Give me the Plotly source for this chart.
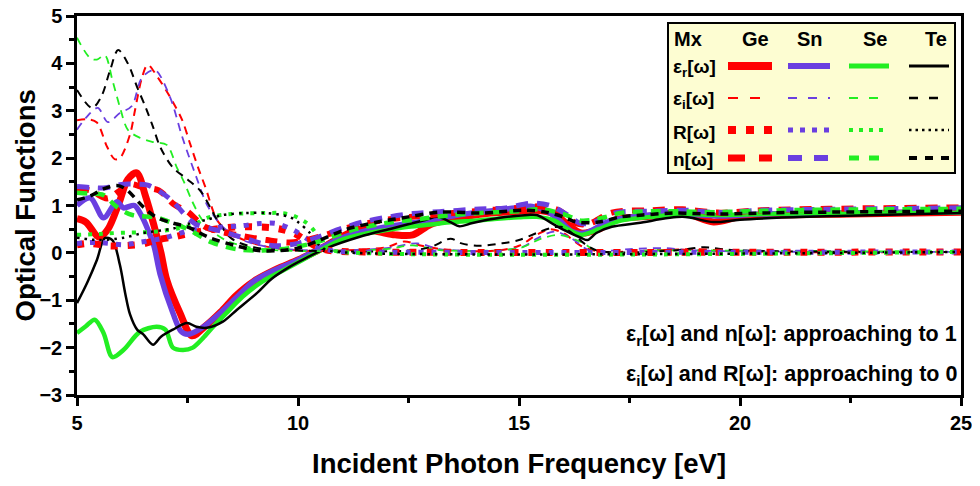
import plotly.graph_objects as go

# ---------------- data ----------------
materials = ["Ge", "Sn", "Se", "Te"]
functions = ["er", "ei", "R", "n"]
x_ticks = [5, 10, 15, 20, 25]
y_ticks = [-3, -2, -1, 0, 1, 2, 3, 4, 5]

# real part of dielectric function
er_ge_x = [5.0, 5.2, 5.5, 5.7, 5.95, 6.15, 6.35, 6.55, 6.75, 6.9, 7.03, 7.33, 7.6, 7.9, 8.25, 8.6, 9.0, 9.5, 10.0, 10.5,
           11.0, 11.4, 11.8, 12.2, 12.6, 13.0, 13.5, 14.0, 14.5, 15.0, 15.4, 15.8, 16.1, 16.4, 16.8, 17.2, 18.0, 18.7,
           19.4, 20.0, 21.0, 22.5, 25.0]
er_ge_y = [0.72, 0.65, 0.33, 0.5, 1.05, 1.55, 1.69, 1.2, 0.55, 0.0, -0.57, -1.27, -1.75, -1.55, -1.25, -0.9, -0.6, -0.35,
           -0.15, 0.08, 0.35, 0.5, 0.45, 0.38, 0.38, 0.6, 0.72, 0.8, 0.85, 0.88, 0.9, 0.82, 0.6, 0.42, 0.5, 0.7, 0.78,
           0.85, 0.65, 0.76, 0.8, 0.82, 0.86]
er_sn_x = [5.0, 5.3, 5.6, 5.9, 6.05, 6.3, 6.45, 6.6, 6.74, 6.88, 7.17, 7.35, 7.5, 7.8, 8.2, 8.6, 9.0, 9.5, 10.0, 10.5,
           11.0, 11.5, 12.0, 12.5, 13.0, 13.5, 14.0, 14.5, 15.0, 15.3, 15.6, 15.9, 16.2, 16.5, 17.0, 17.5, 18.5, 19.5,
           20.5, 22.0, 25.0]
er_sn_y = [1.0, 1.16, 0.74, 1.08, 0.95, 1.0, 0.8, 0.5, 0.15, -0.45, -1.27, -1.65, -1.72, -1.6, -1.3, -0.95, -0.6, -0.35,
           -0.15, 0.1, 0.32, 0.46, 0.55, 0.62, 0.7, 0.78, 0.85, 0.9, 0.96, 0.98, 0.9, 0.7, 0.45, 0.42, 0.65, 0.75, 0.83,
           0.78, 0.82, 0.84, 0.87]
er_se_x = [5.0, 5.2, 5.4, 5.6, 5.8, 6.05, 6.42, 6.8, 7.0, 7.17, 7.4, 7.62, 7.85, 8.08, 8.4, 8.75, 9.2, 9.7, 10.1, 10.5,
           11.0, 11.5, 12.0, 12.5, 13.0, 13.5, 14.0, 14.5, 15.0, 15.4, 15.8, 16.1, 16.4, 16.8, 17.3, 18.0, 18.7, 19.5,
           20.5, 22.0, 25.0]
er_se_y = [-1.69, -1.55, -1.41, -1.69, -2.2, -2.05, -1.67, -1.56, -1.62, -2.0, -2.05, -2.0, -1.8, -1.56, -1.25, -0.92,
           -0.6, -0.35, -0.15, 0.05, 0.28, 0.4, 0.48, 0.55, 0.6, 0.65, 0.68, 0.72, 0.75, 0.76, 0.68, 0.5, 0.38, 0.5, 0.68,
           0.76, 0.82, 0.8, 0.82, 0.84, 0.86]
er_te_x = [5.0, 5.23, 5.45, 5.63, 5.8, 5.97, 6.09, 6.2, 6.36, 6.5, 6.72, 6.9, 7.17, 7.49, 7.7, 7.94, 8.3, 8.62, 9.07, 9.4,
           9.8, 10.2, 10.65, 11.4, 12.15, 12.9, 13.15, 13.45, 13.65, 13.95, 14.57, 15.2, 15.4, 15.7, 16.0, 16.4, 16.55,
           16.75, 17.1, 17.7, 18.7, 19.4, 20.0, 21.5, 25.0]
er_te_y = [-1.06, -0.63, -0.15, 0.31, 0.27, -0.25, -0.85, -1.3, -1.62, -1.72, -1.94, -1.77, -1.62, -1.48, -1.56, -1.58,
           -1.45, -1.2, -0.85, -0.55, -0.3, -0.1, 0.1, 0.34, 0.52, 0.7, 0.76, 0.65, 0.56, 0.63, 0.74, 0.8, 0.8, 0.65,
           0.49, 0.32, 0.27, 0.42, 0.55, 0.63, 0.76, 0.65, 0.7, 0.76, 0.84]

# imaginary part of dielectric function
ei_ge_x = [5.0, 5.25, 5.45, 5.68, 5.85, 5.97, 6.2, 6.31, 6.47, 6.6, 6.83, 7.1, 7.38, 7.56, 7.74, 7.9, 8.2, 8.6, 9.2, 10.0,
           11.0, 12.0, 12.4, 12.8, 13.5, 14.5, 15.0, 15.4, 15.7, 16.0, 16.4, 16.8, 18.0, 19.0, 20.0, 25.0]
ei_ge_y = [2.8, 2.82, 2.75, 2.24, 1.98, 2.0, 2.5, 3.0, 3.7, 3.97, 3.7, 3.3, 2.8, 2.3, 1.8, 1.4, 0.65, 0.35, 0.15, 0.05,
           0.05, 0.12, 0.24, 0.15, 0.05, 0.05, 0.15, 0.38, 0.5, 0.42, 0.15, 0.03, 0.05, 0.08, 0.03, 0.02]
ei_sn_x = [5.0, 5.2, 5.47, 5.7, 5.97, 6.24, 6.47, 6.76, 7.1, 7.38, 7.7, 7.95, 8.3, 8.8, 9.5, 10.5, 12.0, 12.7, 13.2, 14.5,
           15.1, 15.4, 15.8, 16.2, 16.6, 17.5, 18.3, 19.0, 25.0]
ei_sn_y = [2.6, 2.85, 3.06, 2.76, 2.95, 3.1, 3.7, 3.86, 3.3, 2.45, 1.6, 1.0, 0.55, 0.25, 0.1, 0.05, 0.1, 0.2, 0.08, 0.05,
           0.13, 0.3, 0.45, 0.3, 0.05, 0.08, 0.1, 0.05, 0.02]
ei_se_x = [5.0, 5.3, 5.45, 5.63, 5.8, 5.97, 6.15, 6.42, 6.72, 7.03, 7.26, 7.42, 7.6, 7.8, 8.0, 8.4, 9.0, 10.0, 12.0, 12.6,
           13.2, 15.0, 15.5, 15.9, 16.4, 16.8, 18.0, 25.0]
ei_se_y = [4.54, 4.11, 4.08, 4.17, 3.65, 3.08, 2.6, 2.43, 2.34, 2.28, 1.8, 1.5, 1.1, 0.74, 0.5, 0.25, 0.1, 0.04, 0.08,
           0.16, 0.06, 0.1, 0.3, 0.38, 0.23, 0.03, 0.05, 0.02]
ei_te_x = [5.0, 5.34, 5.55, 5.75, 5.93, 6.15, 6.36, 6.55, 6.72, 6.88, 7.17, 7.5, 7.8, 8.17, 8.5, 9.0, 10.0, 12.5, 13.0,
           13.45, 13.7, 14.1, 14.6, 15.0, 15.4, 15.7, 15.95, 16.2, 16.5, 16.8, 18.5, 19.2, 19.8, 25.0]
ei_te_y = [3.44, 3.06, 3.3, 3.86, 4.28, 4.0, 3.5, 3.08, 2.66, 2.24, 1.8, 1.55, 1.3, 0.7, 0.3, 0.12, 0.05, 0.05, 0.12, 0.3,
           0.2, 0.15, 0.2, 0.27, 0.42, 0.52, 0.55, 0.42, 0.18, 0.04, 0.05, 0.12, 0.06, 0.02]

# reflectivity
r_ge_x = [5.0, 5.3, 5.7, 6.0, 6.45, 6.8, 7.2, 7.58, 8.03, 8.6, 9.0, 9.5, 9.9, 10.2, 10.5, 10.8, 11.5, 25.0]
r_ge_y = [0.17, 0.2, 0.15, 0.15, 0.18, 0.27, 0.34, 0.42, 0.49, 0.55, 0.55, 0.52, 0.42, 0.25, 0.1, 0.04, 0.02, 0.02]
r_sn_x = [5.0, 5.5, 6.06, 6.33, 7.0, 7.65, 8.2, 8.7, 9.15, 9.5, 9.9, 10.2, 10.5, 10.8, 11.5, 25.0]
r_sn_y = [0.2, 0.22, 0.17, 0.21, 0.32, 0.5, 0.54, 0.57, 0.62, 0.62, 0.48, 0.3, 0.12, 0.04, 0.02, 0.02]
r_se_x = [5.0, 5.5, 5.9, 6.8, 7.3, 7.65, 7.94, 8.5, 9.2, 9.63, 9.86, 10.0, 10.2, 10.32, 10.43, 10.55, 10.65, 10.9, 25.0]
r_se_y = [0.38, 0.4, 0.42, 0.45, 0.52, 0.6, 0.74, 0.82, 0.84, 0.84, 0.8, 0.74, 0.63, 0.52, 0.38, 0.23, 0.1, 0.03, 0.02]
r_te_x = [5.0, 5.5, 6.06, 6.5, 7.2, 7.58, 7.94, 8.3, 8.8, 9.3, 9.8, 10.0, 10.27, 10.43, 10.6, 10.9, 25.0]
r_te_y = [0.32, 0.27, 0.32, 0.42, 0.52, 0.63, 0.7, 0.8, 0.84, 0.84, 0.76, 0.65, 0.42, 0.21, 0.08, 0.02, 0.02]

# refractive index
n_ge_x = [5.0, 5.3, 5.68, 5.95, 6.2, 6.5, 6.85, 7.2, 7.5, 7.9, 8.6, 9.3, 9.8, 10.2, 10.7, 11.2, 12.0, 13.0, 14.0, 15.0,
          15.5, 15.9, 16.3, 16.6, 17.1, 18.0, 18.7, 19.5, 20.5, 22.0, 25.0]
n_ge_y = [1.35, 1.32, 1.15, 1.3, 1.45, 1.38, 1.32, 1.02, 0.87, 0.55, 0.38, 0.27, 0.22, 0.27, 0.4, 0.55, 0.7, 0.8, 0.88,
          0.95, 0.98, 0.9, 0.62, 0.62, 0.85, 0.9, 0.92, 0.85, 0.9, 0.93, 0.96]
n_sn_x = [5.0, 5.3, 5.6, 6.06, 6.35, 6.6, 6.9, 7.15, 7.3, 7.55, 7.7, 8.3, 9.1, 9.45, 10.0, 10.5, 11.0, 11.5, 12.0, 12.6,
          13.2, 14.0, 14.7, 15.3, 15.7, 16.1, 16.4, 16.7, 17.2, 18.0, 18.8, 19.5, 20.5, 22.0, 25.0]
n_sn_y = [1.4, 1.38, 1.37, 1.45, 1.45, 1.43, 1.28, 1.1, 0.95, 0.7, 0.6, 0.45, 0.22, 0.15, 0.2, 0.35, 0.52, 0.66, 0.75,
          0.83, 0.87, 0.92, 0.95, 1.05, 1.0, 0.8, 0.62, 0.65, 0.85, 0.88, 0.9, 0.85, 0.9, 0.92, 0.95]
n_se_x = [5.0, 5.3, 5.6, 5.9, 6.25, 6.8, 7.1, 7.55, 8.05, 8.6, 9.2, 9.8, 10.4, 10.8, 11.3, 12.0, 12.8, 13.5, 14.3, 15.0,
          15.5, 16.0, 16.4, 16.8, 17.3, 18.2, 19.5, 21.0, 25.0]
n_se_y = [1.27, 1.25, 1.22, 0.97, 0.8, 0.75, 0.65, 0.48, 0.22, 0.08, 0.05, 0.1, 0.22, 0.35, 0.5, 0.63, 0.72, 0.8, 0.85,
          0.88, 0.92, 0.82, 0.68, 0.72, 0.84, 0.88, 0.86, 0.9, 0.93]
n_te_x = [5.0, 5.3, 5.6, 5.9, 6.1, 6.5, 6.8, 7.2, 7.5, 8.0, 8.6, 9.1, 9.6, 10.0, 10.5, 11.1, 11.8, 12.5, 13.2, 14.2,
          15.1, 15.6, 16.0, 16.3, 16.8, 17.3, 17.8, 18.5, 19.5, 21.0, 25.0]
n_te_y = [1.12, 1.2, 1.35, 1.42, 1.35, 0.97, 0.75, 0.62, 0.55, 0.32, 0.15, 0.05, 0.05, 0.1, 0.27, 0.5, 0.65, 0.76, 0.86,
          0.84, 0.9, 0.86, 0.76, 0.65, 0.65, 0.76, 0.8, 0.84, 0.82, 0.85, 0.88]

note_1 = "<b>ε<sub>r</sub>[ω] and n[ω]: approaching to 1</b>"
note_2 = "<b>ε<sub>i</sub>[ω] and R[ω]: approaching to 0</b>"
row_labels = ["<b>ε<sub>r</sub>[ω]</b>", "<b>ε<sub>i</sub>[ω]</b>", "<b>R[ω]</b>", "<b>n[ω]</b>"]

# ---------------- styles ----------------
colors = {"Ge": "#ff0000", "Sn": "#6a3fe0", "Se": "#22ee22", "Te": "#000000"}
widths = {
    "er": {"Ge": 7, "Sn": 5.5, "Se": 4.5, "Te": 2.5},
    "ei": {"Ge": 2, "Sn": 1.8, "Se": 1.8, "Te": 2},
    "R": {"Ge": 7, "Sn": 5, "Se": 4, "Te": 2.5},
    "n": {"Ge": 6, "Sn": 5, "Se": 4.5, "Te": 3.5},
}
dashes = {
    "er": {"Ge": "solid", "Sn": "solid", "Se": "solid", "Te": "solid"},
    "ei": {"Ge": "8px,6px", "Sn": "8px,6px", "Se": "8px,6px", "Te": "8px,6px"},
    "R": {"Ge": "7px,10px", "Sn": "5px,8px", "Se": "4px,7px", "Te": "2.5px,5px"},
    "n": {"Ge": "12px,9px", "Sn": "12px,9px", "Se": "10px,8px", "Te": "8px,6px"},
}
legend_dashes = {
    "er": {"Ge": "solid", "Sn": "solid", "Se": "solid", "Te": "solid"},
    "ei": {"Ge": "10px,12px", "Sn": "9px,11px", "Se": "9px,11px", "Te": "9px,11px"},
    "R": {"Ge": "8px,10px", "Sn": "5px,7px", "Se": "4px,6px", "Te": "2.5px,4px"},
    "n": {"Ge": "17px,14px", "Sn": "14px,12px", "Se": "10px,10px", "Te": "8px,8px"},
}
legend_widths = {
    "er": {"Ge": 8, "Sn": 6, "Se": 5, "Te": 3},
    "ei": {"Ge": 2, "Sn": 2, "Se": 2, "Te": 2.5},
    "R": {"Ge": 8, "Sn": 5, "Se": 4, "Te": 2.5},
    "n": {"Ge": 7, "Sn": 6, "Se": 5, "Te": 4},
}

data = {
    ("er", "Ge"): (er_ge_x, er_ge_y), ("er", "Sn"): (er_sn_x, er_sn_y),
    ("er", "Se"): (er_se_x, er_se_y), ("er", "Te"): (er_te_x, er_te_y),
    ("ei", "Ge"): (ei_ge_x, ei_ge_y), ("ei", "Sn"): (ei_sn_x, ei_sn_y),
    ("ei", "Se"): (ei_se_x, ei_se_y), ("ei", "Te"): (ei_te_x, ei_te_y),
    ("R", "Ge"): (r_ge_x, r_ge_y), ("R", "Sn"): (r_sn_x, r_sn_y),
    ("R", "Se"): (r_se_x, r_se_y), ("R", "Te"): (r_te_x, r_te_y),
    ("n", "Ge"): (n_ge_x, n_ge_y), ("n", "Sn"): (n_sn_x, n_sn_y),
    ("n", "Se"): (n_se_x, n_se_y), ("n", "Te"): (n_te_x, n_te_y),
}

fig = go.Figure()
for f in functions:
    for m in materials:
        xs, ys = data[(f, m)]
        fig.add_trace(go.Scatter(
            x=xs, y=ys, mode="lines", showlegend=False, name=f"{f} {m}",
            line=dict(color=colors[m], width=widths[f][m], dash=dashes[f][m],
                      shape="spline", smoothing=0.9),
        ))

FONT = "Arial, Liberation Sans, sans-serif"
OFF = 8  # page body margin
# target plot area in page pixels: x 77..961, y 16..395
W, H = 972, 478
L, T = 77 - OFF, 16 - OFF
R_ = W - (961 - OFF)
B = H - (395 - OFF)
PW, PH = W - L - R_, H - T - B


def px(x):
    return (x - OFF - L) / PW


def py(y):
    return 1 - (y - OFF - T) / PH


shapes = []
annotations = []
# legend table
shapes.append(dict(type="rect", xref="paper", yref="paper", x0=px(668), x1=px(955), y0=py(173), y1=py(23),
                   fillcolor="#fdfdd2", line=dict(color="black", width=2), layer="above"))
annotations.append(dict(xref="paper", yref="paper", x=px(672), y=py(39), text="<b>Mx</b>", showarrow=False,
                        xanchor="left", yanchor="middle", font=dict(family=FONT, size=20, color="black")))
col_centers = {"Ge": 755, "Sn": 810, "Se": 875, "Te": 936}
col_spans = {"Ge": (728, 772), "Sn": (788, 830), "Se": (849, 889), "Te": (909, 949)}
for m in materials:
    annotations.append(dict(xref="paper", yref="paper", x=px(col_centers[m]), y=py(39), text=f"<b>{m}</b>",
                            showarrow=False, xanchor="center", yanchor="middle",
                            font=dict(family=FONT, size=20, color="black")))
row_text_y = [68, 100, 132, 159]
row_line_y = [66, 98, 130, 158]
for i, f in enumerate(functions):
    annotations.append(dict(xref="paper", yref="paper", x=px(671), y=py(row_text_y[i]), text=row_labels[i],
                            showarrow=False, xanchor="left", yanchor="middle",
                            font=dict(family=FONT, size=19, color="black")))
    for m in materials:
        a, b = col_spans[m]
        shapes.append(dict(type="line", xref="paper", yref="paper", x0=px(a), x1=px(b),
                           y0=py(row_line_y[i]), y1=py(row_line_y[i]),
                           line=dict(color=colors[m], width=legend_widths[f][m], dash=legend_dashes[f][m]),
                           layer="above"))

# notes
annotations.append(dict(xref="paper", yref="paper", x=px(959), y=py(335), text=note_1, showarrow=False,
                        xanchor="right", yanchor="middle", font=dict(family=FONT, size=21.5, color="black")))
annotations.append(dict(xref="paper", yref="paper", x=px(959), y=py(375), text=note_2, showarrow=False,
                        xanchor="right", yanchor="middle", font=dict(family=FONT, size=21.5, color="black")))
# axis titles
annotations.append(dict(xref="paper", yref="paper", x=0.5, y=0, yshift=-68, text="<b>Incident Photon Frequency [eV]</b>",
                        showarrow=False, xanchor="center", yanchor="middle",
                        font=dict(family=FONT, size=27.5, color="black")))
annotations.append(dict(xref="paper", yref="paper", x=0, xshift=-52, y=0.5, text="<b>Optical Functions</b>",
                        textangle=-90, showarrow=False, xanchor="center", yanchor="middle",
                        font=dict(family=FONT, size=27.5, color="black")))

axis_common = dict(showline=True, linecolor="black", linewidth=2.5, mirror=True, ticks="outside", ticklen=8,
                   tickwidth=2.5, tickcolor="black", showgrid=False, zeroline=False, ticklabeloverflow="allow",
                   tickfont=dict(family=FONT, size=20, color="black", weight="bold"))
fig.update_layout(
    width=W, height=H, margin=dict(l=L, r=R_, t=T, b=B, autoexpand=False),
    paper_bgcolor="white", plot_bgcolor="white",
    xaxis=dict(range=[5, 25], tickvals=x_ticks, minor=dict(dtick=2.5, ticks="outside", ticklen=5, tickwidth=2.5,
                                                            tickcolor="black"), **axis_common),
    yaxis=dict(range=[-3, 5], tickvals=y_ticks, minor=dict(dtick=0.5, ticks="outside", ticklen=5, tickwidth=2.5,
                                                            tickcolor="black"), **axis_common),
    shapes=shapes, annotations=annotations,
)
fig.write_html("out.html")
